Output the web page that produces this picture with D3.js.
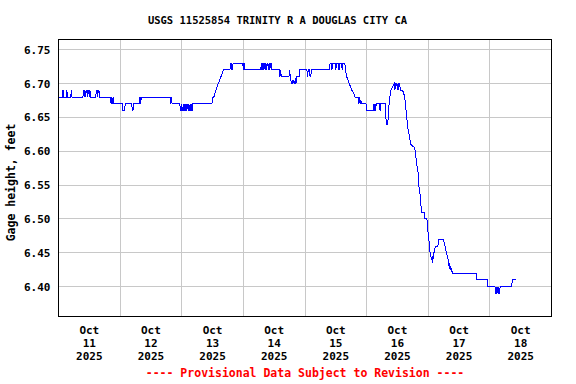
<!DOCTYPE html>
<html>
<head>
<meta charset="utf-8">
<script src="https://cdn.jsdelivr.net/npm/d3@7/dist/d3.min.js"></script>
<style>
	body { margin: 0; background: #fff; }
	svg text { font-family: 'DejaVu Sans Mono', monospace; font-weight: bold; }
</style>
</head>
<body>
<svg id="chart" width="576" height="384"></svg>
<script>

var title = 'USGS 11525854 TRINITY R A DOUGLAS CITY CA';
var yLabel = 'Gage height, feet';
var footnote = '---- Provisional Data Subject to Revision ----';

var yTicks = [ 6.40, 6.45, 6.50, 6.55, 6.60, 6.65, 6.70, 6.75 ];
var yDomain = [ 6.356, 6.765 ];

var days = [ '2025-10-11', '2025-10-12', '2025-10-13', '2025-10-14', '2025-10-15', '2025-10-16', '2025-10-17', '2025-10-18' ];

// 15-minute readings, only where the value changes ('MM-DD HH:MM', feet)
var readings = [
	[ '10-11 00:00', 6.68 ], [ '10-11 01:30', 6.68 ], [ '10-11 01:45', 6.69 ], [ '10-11 02:00', 6.68 ],
	[ '10-11 03:00', 6.68 ], [ '10-11 03:15', 6.69 ], [ '10-11 03:30', 6.68 ], [ '10-11 04:45', 6.68 ],
	[ '10-11 05:00', 6.69 ], [ '10-11 05:15', 6.68 ], [ '10-11 09:30', 6.68 ], [ '10-11 09:45', 6.69 ],
	[ '10-11 10:00', 6.68 ], [ '10-11 10:15', 6.69 ], [ '10-11 10:30', 6.68 ], [ '10-11 10:45', 6.69 ],
	[ '10-11 11:00', 6.69 ], [ '10-11 11:15', 6.68 ], [ '10-11 11:30', 6.69 ], [ '10-11 11:45', 6.69 ],
	[ '10-11 12:00', 6.68 ], [ '10-11 12:15', 6.69 ], [ '10-11 12:30', 6.68 ], [ '10-11 14:30', 6.68 ],
	[ '10-11 14:45', 6.69 ], [ '10-11 15:00', 6.69 ], [ '10-11 15:15', 6.68 ], [ '10-11 15:30', 6.69 ],
	[ '10-11 15:45', 6.69 ], [ '10-11 16:00', 6.68 ], [ '10-11 20:15', 6.68 ], [ '10-11 20:30', 6.67 ],
	[ '10-11 20:45', 6.68 ], [ '10-11 21:00', 6.67 ], [ '10-11 21:15', 6.68 ], [ '10-11 21:30', 6.67 ],
	[ '10-12 00:45', 6.67 ], [ '10-12 01:00', 6.66 ], [ '10-12 01:45', 6.66 ], [ '10-12 02:00', 6.67 ],
	[ '10-12 04:30', 6.67 ], [ '10-12 04:45', 6.66 ], [ '10-12 05:00', 6.66 ], [ '10-12 05:15', 6.67 ],
	[ '10-12 07:30', 6.67 ], [ '10-12 07:45', 6.68 ], [ '10-12 08:00', 6.67 ], [ '10-12 08:15', 6.68 ],
	[ '10-12 19:30', 6.68 ], [ '10-12 19:45', 6.67 ], [ '10-12 20:00', 6.68 ], [ '10-12 20:15', 6.67 ],
	[ '10-12 23:15', 6.67 ], [ '10-12 23:30', 6.66 ], [ '10-12 23:45', 6.66 ], [ '10-13 00:00', 6.67 ],
	[ '10-13 00:15', 6.66 ], [ '10-13 00:30', 6.66 ], [ '10-13 00:45', 6.67 ], [ '10-13 01:00', 6.66 ],
	[ '10-13 01:15', 6.67 ], [ '10-13 01:30', 6.66 ], [ '10-13 01:45', 6.67 ], [ '10-13 02:00', 6.66 ],
	[ '10-13 02:15', 6.67 ], [ '10-13 02:30', 6.66 ], [ '10-13 02:45', 6.67 ], [ '10-13 03:00', 6.66 ],
	[ '10-13 03:15', 6.67 ], [ '10-13 03:30', 6.66 ], [ '10-13 03:45', 6.67 ], [ '10-13 04:00', 6.66 ],
	[ '10-13 04:15', 6.67 ], [ '10-13 11:45', 6.67 ], [ '10-13 12:00', 6.68 ], [ '10-13 12:30', 6.68 ],
	[ '10-13 13:15', 6.69 ], [ '10-13 14:15', 6.70 ], [ '10-13 15:15', 6.71 ], [ '10-13 16:15', 6.72 ],
	[ '10-13 18:45', 6.72 ], [ '10-13 19:00', 6.73 ], [ '10-13 19:15', 6.73 ], [ '10-13 19:30', 6.72 ],
	[ '10-13 19:45', 6.72 ], [ '10-13 20:00', 6.73 ], [ '10-13 23:45', 6.73 ], [ '10-14 00:00', 6.72 ],
	[ '10-14 00:15', 6.73 ], [ '10-14 00:30', 6.72 ], [ '10-14 06:45', 6.72 ], [ '10-14 07:00', 6.73 ],
	[ '10-14 07:15', 6.72 ], [ '10-14 07:30', 6.73 ], [ '10-14 07:45', 6.73 ], [ '10-14 08:00', 6.72 ],
	[ '10-14 08:15', 6.73 ], [ '10-14 08:30', 6.72 ], [ '10-14 08:45', 6.73 ], [ '10-14 09:00', 6.72 ],
	[ '10-14 09:15', 6.73 ], [ '10-14 09:30', 6.73 ], [ '10-14 09:45', 6.72 ], [ '10-14 10:00', 6.73 ],
	[ '10-14 10:15', 6.72 ], [ '10-14 10:45', 6.73 ], [ '10-14 11:00', 6.72 ], [ '10-14 14:00', 6.72 ],
	[ '10-14 14:15', 6.71 ], [ '10-14 14:30', 6.72 ], [ '10-14 14:45', 6.71 ], [ '10-14 17:45', 6.71 ],
	[ '10-14 18:00', 6.72 ], [ '10-14 18:15', 6.71 ], [ '10-14 18:45', 6.70 ], [ '10-14 19:00', 6.705 ],
	[ '10-14 19:15', 6.70 ], [ '10-14 19:30', 6.705 ], [ '10-14 19:45', 6.70 ], [ '10-14 20:15', 6.705 ],
	[ '10-14 20:30', 6.70 ], [ '10-14 20:45', 6.71 ], [ '10-14 21:45', 6.71 ], [ '10-14 22:00', 6.72 ],
	[ '10-15 00:45', 6.72 ], [ '10-15 01:00', 6.71 ], [ '10-15 01:15', 6.72 ], [ '10-15 01:45', 6.72 ],
	[ '10-15 02:00', 6.71 ], [ '10-15 02:15', 6.71 ], [ '10-15 02:30', 6.72 ], [ '10-15 09:30', 6.72 ],
	[ '10-15 09:45', 6.73 ], [ '10-15 10:15', 6.73 ], [ '10-15 10:30', 6.72 ], [ '10-15 10:45', 6.73 ],
	[ '10-15 11:45', 6.73 ], [ '10-15 12:00', 6.72 ], [ '10-15 12:15', 6.73 ], [ '10-15 13:00', 6.73 ],
	[ '10-15 13:15', 6.72 ], [ '10-15 13:30', 6.73 ], [ '10-15 14:15', 6.73 ], [ '10-15 14:30', 6.72 ],
	[ '10-15 14:45', 6.73 ], [ '10-15 15:30', 6.73 ], [ '10-15 15:45', 6.72 ], [ '10-15 16:15', 6.71 ],
	[ '10-15 17:15', 6.70 ], [ '10-15 18:15', 6.69 ], [ '10-15 19:00', 6.685 ], [ '10-15 19:30', 6.68 ],
	[ '10-15 20:45', 6.68 ], [ '10-15 21:00', 6.67 ], [ '10-15 21:15', 6.68 ], [ '10-15 21:30', 6.67 ],
	[ '10-15 21:45', 6.675 ], [ '10-15 22:00', 6.67 ], [ '10-15 23:45', 6.67 ], [ '10-16 00:00', 6.66 ],
	[ '10-16 02:30', 6.66 ], [ '10-16 02:45', 6.67 ], [ '10-16 03:00', 6.66 ], [ '10-16 03:15', 6.67 ],
	[ '10-16 03:30', 6.66 ], [ '10-16 03:45', 6.67 ], [ '10-16 05:00', 6.67 ], [ '10-16 05:15', 6.66 ],
	[ '10-16 05:30', 6.67 ], [ '10-16 07:15', 6.67 ], [ '10-16 07:30', 6.65 ], [ '10-16 07:45', 6.64 ],
	[ '10-16 08:15', 6.64 ], [ '10-16 08:30', 6.66 ], [ '10-16 09:00', 6.68 ], [ '10-16 09:30', 6.69 ],
	[ '10-16 10:00', 6.695 ], [ '10-16 10:45', 6.70 ], [ '10-16 11:00', 6.69 ], [ '10-16 11:15', 6.70 ],
	[ '10-16 11:45', 6.70 ], [ '10-16 12:00', 6.69 ], [ '10-16 12:15', 6.70 ], [ '10-16 12:30', 6.69 ],
	[ '10-16 12:45', 6.70 ], [ '10-16 13:15', 6.69 ], [ '10-16 14:00', 6.69 ], [ '10-16 14:30', 6.685 ],
	[ '10-16 15:00', 6.675 ], [ '10-16 15:30', 6.655 ], [ '10-16 16:00', 6.635 ], [ '10-16 16:30', 6.625 ],
	[ '10-16 16:45', 6.62 ], [ '10-16 17:15', 6.61 ], [ '10-16 18:45', 6.605 ], [ '10-16 19:15', 6.59 ],
	[ '10-16 19:45', 6.575 ], [ '10-16 20:00', 6.57 ], [ '10-16 20:15', 6.55 ], [ '10-16 20:30', 6.545 ],
	[ '10-16 20:45', 6.54 ], [ '10-16 21:00', 6.525 ], [ '10-16 21:30', 6.51 ], [ '10-16 22:30', 6.51 ],
	[ '10-16 22:45', 6.50 ], [ '10-16 23:30', 6.50 ], [ '10-16 23:45', 6.485 ], [ '10-17 00:15', 6.47 ],
	[ '10-17 00:30', 6.455 ], [ '10-17 00:45', 6.45 ], [ '10-17 01:15', 6.44 ], [ '10-17 01:30', 6.445 ],
	[ '10-17 01:45', 6.435 ], [ '10-17 02:00', 6.45 ], [ '10-17 02:15', 6.45 ], [ '10-17 02:30', 6.455 ],
	[ '10-17 02:45', 6.46 ], [ '10-17 03:45', 6.46 ], [ '10-17 04:00', 6.47 ], [ '10-17 05:45', 6.47 ],
	[ '10-17 06:15', 6.465 ], [ '10-17 06:45', 6.456 ], [ '10-17 07:15', 6.447 ], [ '10-17 07:45', 6.44 ],
	[ '10-17 08:00', 6.43 ], [ '10-17 08:15', 6.435 ], [ '10-17 08:30', 6.425 ], [ '10-17 08:45', 6.43 ],
	[ '10-17 09:00', 6.425 ], [ '10-17 09:30', 6.42 ], [ '10-17 18:45', 6.42 ], [ '10-17 19:00', 6.41 ],
	[ '10-17 23:00', 6.41 ], [ '10-17 23:15', 6.40 ], [ '10-18 02:00', 6.40 ], [ '10-18 02:15', 6.39 ],
	[ '10-18 02:30', 6.40 ], [ '10-18 02:45', 6.39 ], [ '10-18 03:00', 6.40 ], [ '10-18 03:15', 6.39 ],
	[ '10-18 03:30', 6.40 ], [ '10-18 03:45', 6.39 ], [ '10-18 04:00', 6.40 ], [ '10-18 08:30', 6.40 ],
	[ '10-18 08:45', 6.41 ], [ '10-18 10:00', 6.41 ]
];

var parseTime = d3.timeParse( '%Y-%m-%d %H:%M' );
var parseDay = d3.timeParse( '%Y-%m-%d' );

var data = readings.map( function ( r ) {
	return { time: parseTime( '2025-' + r[0] ), height: r[1] };
} );

var dayDates = days.map( function ( d ) { return parseDay( d ); } );

var plot = { left: 58.5, right: 551.5, top: 39.5, bottom: 316.5 };

var svg = d3.select( '#chart' );

var x = d3.scaleTime()
	.domain( [ dayDates[0], d3.timeDay.offset( dayDates[dayDates.length - 1], 1 ) ] )
	.range( [ plot.left, plot.right ] );

var y = d3.scaleLinear()
	.domain( yDomain )
	.range( [ plot.bottom, plot.top ] );

var snap = function ( v ) { return Math.floor( v ) + 0.5; };

// grid
var grid = svg.append( 'g' )
	.attr( 'stroke', '#c8c8c8' )
	.attr( 'stroke-width', 1 )
	.attr( 'shape-rendering', 'crispEdges' );

grid.selectAll( 'line.h' )
	.data( yTicks )
	.enter()
	.append( 'line' )
	.classed( 'h', true )
	.attr( 'x1', plot.left )
	.attr( 'x2', plot.right )
	.attr( 'y1', function ( d ) { return snap( y( d ) ); } )
	.attr( 'y2', function ( d ) { return snap( y( d ) ); } );

grid.selectAll( 'line.v' )
	.data( dayDates.slice( 1 ) )
	.enter()
	.append( 'line' )
	.classed( 'v', true )
	.attr( 'y1', plot.top )
	.attr( 'y2', plot.bottom )
	.attr( 'x1', function ( d ) { return snap( x( d ) ); } )
	.attr( 'x2', function ( d ) { return snap( x( d ) ); } );

// y tick labels
var yAxis = d3.axisLeft( y )
	.tickValues( yTicks )
	.tickSize( 0 )
	.tickPadding( 8 )
	.tickFormat( d3.format( '.2f' ) );

svg.append( 'g' )
	.attr( 'transform', 'translate(' + plot.left + ',0)' )
	.call( yAxis )
	.call( function ( g ) {
		g.select( '.domain' ).remove();
		g.attr( 'font-family', null ).attr( 'font-size', null );
		g.selectAll( 'text' ).attr( 'font-size', '11px' ).attr( 'fill', '#000' );
	} );

// x labels, one per day at noon
var xLabels = svg.append( 'g' )
	.selectAll( 'text' )
	.data( dayDates )
	.enter()
	.append( 'text' )
	.attr( 'text-anchor', 'middle' )
	.attr( 'font-size', '11px' )
	.attr( 'transform', function ( d ) {
		return 'translate(' + x( d3.timeHour.offset( d, 12 ) ) + ',334)';
	} );

[ '%b', '%-d', '%Y' ].forEach( function ( fmt, i ) {
	xLabels.append( 'tspan' )
		.attr( 'x', 0 )
		.attr( 'y', i * 13 )
		.text( function ( d ) { return d3.timeFormat( fmt )( d ); } );
} );

// data line
var line = d3.line()
	.x( function ( d ) { return x( d.time ); } )
	.y( function ( d ) { return y( d.height ); } );

svg.append( 'path' )
	.datum( data )
	.attr( 'fill', 'none' )
	.attr( 'stroke', '#0000ff' )
	.attr( 'stroke-width', 1 )
	.attr( 'shape-rendering', 'crispEdges' )
	.attr( 'd', line );

// frame
svg.append( 'rect' )
	.attr( 'x', plot.left )
	.attr( 'y', plot.top )
	.attr( 'width', plot.right - plot.left )
	.attr( 'height', plot.bottom - plot.top )
	.attr( 'fill', 'none' )
	.attr( 'stroke', '#000' )
	.attr( 'shape-rendering', 'crispEdges' );

svg.append( 'text' )
	.attr( 'x', 277.5 )
	.attr( 'y', 24 )
	.attr( 'text-anchor', 'middle' )
	.attr( 'font-size', '10.5px' )
	.text( title );

svg.append( 'text' )
	.attr( 'transform', 'translate(15,182.5) rotate(-90)' )
	.attr( 'text-anchor', 'middle' )
	.attr( 'font-size', '11.5px' )
	.text( yLabel );

svg.append( 'text' )
	.attr( 'x', ( plot.left + plot.right ) / 2 )
	.attr( 'y', 377 )
	.attr( 'text-anchor', 'middle' )
	.attr( 'font-size', '11.5px' )
	.attr( 'fill', '#ff0000' )
	.text( footnote );

</script>
</body>
</html>
